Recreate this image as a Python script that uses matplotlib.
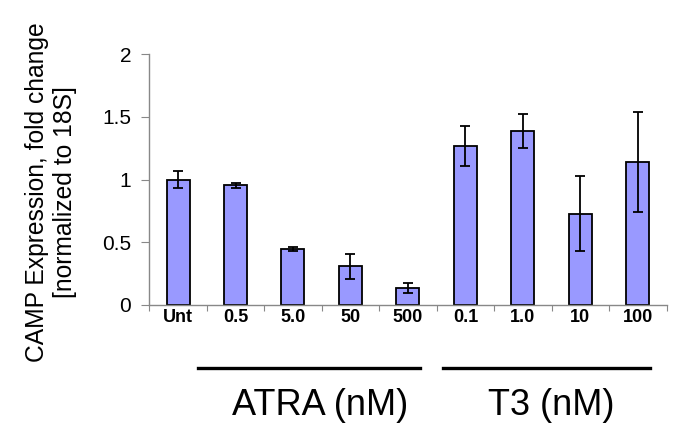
import numpy as np
import matplotlib.pyplot as plt
from matplotlib.lines import Line2D

plt.rcParams['font.family'] = ['Liberation Sans', 'DejaVu Sans']

# data
labels = ['Unt', '0.5', '5.0', '50', '500', '0.1', '1.0', '10', '100']
values = [1.0, 0.953, 0.444, 0.31, 0.133, 1.27, 1.39, 0.726, 1.14]
errors = [0.07, 0.02, 0.015, 0.10, 0.04, 0.16, 0.135, 0.30, 0.40]
groups = ['ATRA (nM)', 'T3 (nM)']

fig = plt.figure(figsize=(6.85, 4.4), dpi=100)
ax = fig.add_axes([0.218, 0.307, 0.755, 0.570])

x = np.arange(len(labels))
ax.bar(x, values, width=0.4, color='#9999ff', edgecolor='black', linewidth=1.3, zorder=2)
ax.errorbar(x, values, yerr=errors, fmt='none', ecolor='black', elinewidth=1.3,
            capsize=3.5, capthick=1.3, zorder=3)

ax.set_xlim(-0.5, len(labels) - 0.5)
ax.set_ylim(0, 2)
ax.set_yticks([0, 0.5, 1, 1.5, 2])
ax.set_yticklabels(['0', '0.5', '1', '1.5', '2'], fontsize=15)

# ticks at category boundaries, labels at centers
ax.set_xticks(np.arange(len(labels) + 1) - 0.5)
ax.set_xticklabels([])
ax.set_xticks(x, minor=True)
ax.set_xticklabels(labels, minor=True, fontsize=13, fontweight='bold')
ax.tick_params(axis='x', which='minor', length=0, pad=3)
ax.tick_params(axis='x', which='major', length=4, color='#888888', direction='out')
ax.tick_params(axis='y', length=6, color='#888888', direction='out', pad=7)

for s in ['top', 'right']:
    ax.spines[s].set_visible(False)
for s in ['left', 'bottom']:
    ax.spines[s].set_color('#888888')
    ax.spines[s].set_linewidth(1)

# y label
fig.text(51 / 685, 1 - 192 / 440, 'CAMP Expression, fold change\n[normalized to 18S]',
         fontsize=17.7, rotation=90, ha='center', va='center', multialignment='center',
         linespacing=1.25)

# group bars and labels under the axis
fig.add_artist(Line2D([198 / 685, 420 / 685], [1 - 367.7 / 440] * 2, color='black', linewidth=2.4))
fig.add_artist(Line2D([442.7 / 685, 650 / 685], [1 - 367.7 / 440] * 2, color='black', linewidth=2.4))
fig.text(319.7 / 685, 1 - 405 / 440, groups[0], fontsize=26, ha='center', va='center')
fig.text(550.8 / 685, 1 - 405 / 440, groups[1], fontsize=26, ha='center', va='center')

fig.savefig('out.png', dpi=100)
